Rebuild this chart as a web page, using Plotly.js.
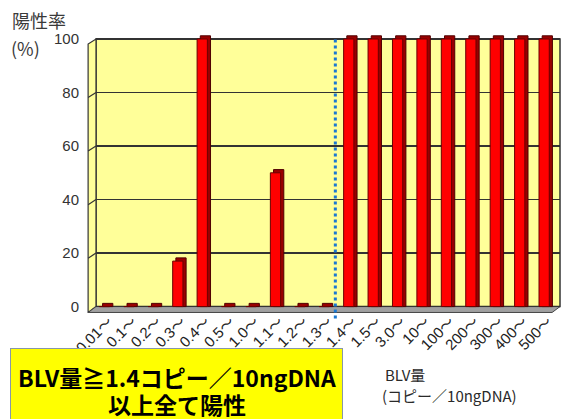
<!DOCTYPE html>
<html>
<head>
<meta charset="utf-8">
<script src="https://cdn.plot.ly/plotly-3.0.1.min.js"></script>
<style>
  html, body { margin: 0; padding: 0; background: #ffffff; }
  #chart { width: 587px; height: 419px; }
</style>
</head>
<body>
<div id="chart"></div>
<script>
// BLV copy-number bins (copies / 10 ng DNA)
const categories = ['0.01～', '0.1～', '0.2～', '0.3～', '0.4～', '0.5～', '1.0～', '1.1～', '1.2～', '1.3～',
                    '1.4～', '1.5～', '3.0～', '10～', '100～', '200～', '300～', '400～', '500～'];
// positive rate (%) per bin
const positiveRate = [0, 0, 0, 17, 100, 0, 0, 50, 0, 0,
                      100, 100, 100, 100, 100, 100, 100, 100, 100];
const yTicks = [0, 20, 40, 60, 80, 100];

const FONT = '"Liberation Sans", Arial, "Noto Sans CJK JP", sans-serif';
const JFONT = '"Noto Sans CJK JP", "Liberation Sans", sans-serif';

// pseudo-3D depth of bars and walls
const depth = 1.2;           // in y units
const wallSkew = -0.017;     // in paper x units
const floorDepth = 2.2;      // in y units

// dark right/top face of each bar, drawn slightly behind the front face
const sideFace = {
  type: 'bar',
  x: categories,
  y: positiveRate.map(v => v + depth),
  base: 0,
  width: 0.42,
  offset: -0.23,
  marker: { color: '#9a0000', line: { color: '#500000', width: 1 } },
  hoverinfo: 'skip',
  showlegend: false
};

const frontFace = {
  type: 'bar',
  x: categories,
  y: positiveRate,
  width: 0.42,
  offset: -0.36,
  marker: { color: '#ff0000', line: { color: '#6a0000', width: 1 } },
  showlegend: false
};

const shapes = [
  // back wall
  { type: 'rect', xref: 'paper', yref: 'y', x0: 0, x1: 1, y0: 0, y1: 100,
    fillcolor: '#ffff99', line: { color: '#333333', width: 1.5 }, layer: 'below' },
  // left wall
  { type: 'path', xref: 'paper', yref: 'y', layer: 'below',
    path: `M ${wallSkew},${-floorDepth} L ${wallSkew},${100 - 1.9} L 0,100 L 0,0 Z`,
    fillcolor: '#ffff99', line: { color: '#333333', width: 1.2 } },
  // floor
  { type: 'path', xref: 'paper', yref: 'y', layer: 'below',
    path: `M 0,0 L 1,0 L ${1 + wallSkew},${-floorDepth} L ${wallSkew},${-floorDepth} Z`,
    fillcolor: '#a0a0a0', line: { color: '#444444', width: 1 } }
];

// gridline returns on the left wall
yTicks.slice(1, -1).forEach(v => {
  shapes.push({ type: 'line', xref: 'paper', yref: 'y', x0: wallSkew, x1: 0, y0: v - 1.9, y1: v,
                line: { color: '#333333', width: 1.2 }, layer: 'below' });
});

// threshold marker between 1.3～ and 1.4～
shapes.push({ type: 'line', xref: 'x', yref: 'paper', x0: 9.3, x1: 9.3, y0: -0.02, y1: 0.99,
              line: { color: '#1a78d2', width: 3, dash: 'dot' }, layer: 'above' });

const annotations = [
  // y-axis title
  { xref: 'paper', yref: 'paper', x: 0, y: 1, xanchor: 'left', yanchor: 'middle',
    xshift: -86, yshift: 15, showarrow: false,
    text: '陽性率', font: { family: JFONT, size: 18, color: '#3a3a3a' } },
  { xref: 'paper', yref: 'paper', x: 0, y: 1, xanchor: 'left', yanchor: 'middle',
    xshift: -87, yshift: -13, showarrow: false,
    text: '(%)', font: { family: JFONT, size: 18, color: '#3a3a3a' } },
  // highlighted conclusion box (background) and its two lines of text
  { xref: 'paper', yref: 'paper', x: 0, y: 0, xanchor: 'left', yanchor: 'top',
    xshift: -86, yshift: -34.6, showarrow: false,
    width: 331, height: 80, bgcolor: '#ffff00', bordercolor: '#8797a8', borderwidth: 1, borderpad: 0,
    text: ' ', font: { family: JFONT, size: 10 } },
  { xref: 'paper', yref: 'paper', x: 0, y: 0, xanchor: 'center', yanchor: 'middle',
    xshift: -86 + 167, yshift: -(377 - 313.4), showarrow: false,
    text: '<b>BLV量≧1.4コピー／10ngDNA</b>',
    font: { family: JFONT, size: 23, color: '#000000' } },
  { xref: 'paper', yref: 'paper', x: 0, y: 0, xanchor: 'center', yanchor: 'middle',
    xshift: -86 + 167, yshift: -(404 - 313.4), showarrow: false,
    text: '<b>以上全て陽性</b>',
    font: { family: JFONT, size: 23, color: '#000000' } },
  // x-axis title
  { xref: 'paper', yref: 'paper', x: 0, y: 0, xanchor: 'left', yanchor: 'middle',
    xshift: 287, yshift: -61.6, showarrow: false,
    text: 'BLV量', font: { family: JFONT, size: 15, color: '#2a2a2a' } },
  { xref: 'paper', yref: 'paper', x: 0, y: 0, xanchor: 'left', yanchor: 'middle',
    xshift: 284, yshift: -82.6, showarrow: false,
    text: '(コピー／10ngDNA)', font: { family: JFONT, size: 15, color: '#2a2a2a' } }
];

const layout = {
  width: 587,
  height: 419,
  margin: { l: 96, r: 27, t: 35, b: 106 },
  paper_bgcolor: '#ffffff',
  plot_bgcolor: 'rgba(0,0,0,0)',
  barmode: 'overlay',
  bargap: 0,
  xaxis: {
    type: 'category',
    tickangle: -45,
    showgrid: false,
    zeroline: false,
    showline: false,
    ticks: '',
    ticklabelstandoff: -4,
    tickfont: { family: FONT, size: 15, color: '#222222' },
    range: [-0.5, categories.length - 0.5]
  },
  yaxis: {
    range: [-2.4, 101.5],
    tickvals: yTicks,
    ticktext: yTicks.map(String),
    showgrid: true,
    gridcolor: '#333333',
    gridwidth: 1.5,
    zeroline: false,
    showline: false,
    ticks: '',
    ticklabelstandoff: 16,
    tickfont: { family: FONT, size: 15, color: '#333333' }
  },
  shapes: shapes,
  annotations: annotations,
  font: { family: FONT }
};

Plotly.newPlot('chart', [sideFace, frontFace], layout, { staticPlot: true, displayModeBar: false });
</script>
</body>
</html>
